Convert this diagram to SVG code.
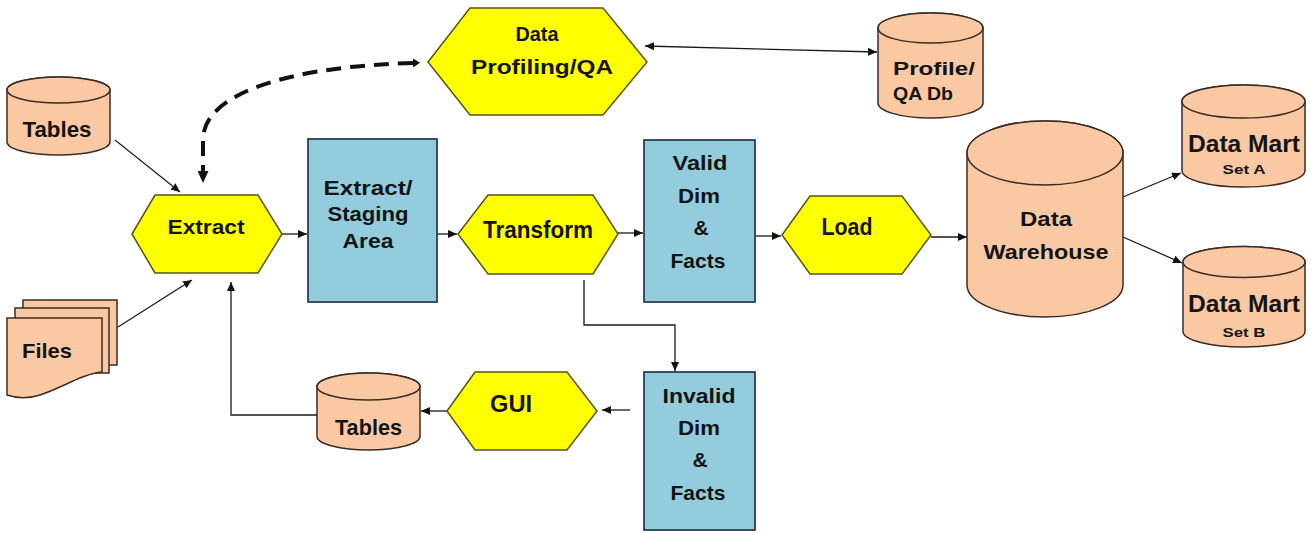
<svg xmlns="http://www.w3.org/2000/svg" width="1316" height="533" viewBox="0 0 1316 533">
<style>
.t{font-family:"Liberation Sans",Arial,sans-serif;font-weight:bold;fill:#141414;text-anchor:middle}
.hex{fill:#FFFF00;stroke:#55551a;stroke-width:1.5}
.box{fill:#93CDDD;stroke:#2a4050;stroke-width:1.8}
.cyl{fill:#FAC9A4;stroke:#3a2c22;stroke-width:1.5}
.ln{fill:none;stroke:#1a1a1a;stroke-width:1.3}
</style>
<defs>
<marker id="ah" markerUnits="userSpaceOnUse" markerWidth="10" markerHeight="8" refX="9" refY="4" orient="auto-start-reverse"><path d="M0,0 L9,4 L0,8 z" fill="#111"/></marker>
<marker id="dh" markerUnits="userSpaceOnUse" markerWidth="13" markerHeight="11" refX="0" refY="5.5" orient="auto"><path d="M0,0 L12,5.5 L0,11 z" fill="#111"/></marker>
<marker id="ds" markerUnits="userSpaceOnUse" markerWidth="8" markerHeight="9" refX="0" refY="4.5" orient="auto-start-reverse"><path d="M0,0 L7,4.5 L0,9 z" fill="#111"/></marker>
</defs>

<g id="connectors">
<path class="ln" d="M115,140 L180,192" marker-end="url(#ah)"/>
<path class="ln" d="M118,327 L192,280" marker-end="url(#ah)"/>
<path class="ln" d="M282,234 L307,234" marker-end="url(#ah)"/>
<path class="ln" d="M432,234 L457,234" marker-end="url(#ah)"/>
<path class="ln" d="M618,233 L643,233" marker-end="url(#ah)"/>
<path class="ln" d="M755,236 L781,236" marker-end="url(#ah)"/>
<path class="ln" d="M931,237 L967,237" marker-end="url(#ah)"/>
<path class="ln" d="M1123,197 L1181,173" marker-end="url(#ah)"/>
<path class="ln" d="M1123,237 L1182,263" marker-end="url(#ah)"/>
<path class="ln" d="M584,280 V325 H675 V371" marker-end="url(#ah)"/>
<path class="ln" d="M630,410 L602,410" marker-end="url(#ah)"/>
<path class="ln" d="M447,411 L421,411" marker-end="url(#ah)"/>
<path class="ln" d="M317,415 H231 V282" marker-end="url(#ah)"/>
<path class="ln" d="M645,46 L877,52" marker-start="url(#ah)" marker-end="url(#ah)"/>
<path d="M413,63 C300,66 203,90 203,140 L203,171" fill="none" stroke="#111" stroke-width="4" stroke-dasharray="15,9" marker-start="url(#ds)" marker-end="url(#dh)"/>
</g>

<g id="tables-src">
<path class="cyl" d="M7,90 V142 A51.5,13 0 0 0 110,142 V90 A51.5,13 0 0 0 7,90 Z"/>
<ellipse class="cyl" cx="58.5" cy="90" rx="51.5" ry="13"/>
<text class="t" x="57" y="137" font-size="22" textLength="69" lengthAdjust="spacingAndGlyphs">Tables</text>
</g>

<g id="files">
<rect class="cyl" x="23" y="300" width="94" height="65"/>
<rect class="cyl" x="15" y="308" width="94" height="65"/>
<path class="cyl" d="M7,318 H102 V372 C82,374 62,388 40,395 C28,399 16,398 7,395 Z"/>
<text class="t" x="47" y="358" font-size="21" textLength="50" lengthAdjust="spacingAndGlyphs">Files</text>
</g>

<g id="extract">
<polygon class="hex" points="132,234 155,195 258,195 282,234 258,273 155,273"/>
<text class="t" x="206" y="234" font-size="21" textLength="77" lengthAdjust="spacingAndGlyphs">Extract</text>
</g>

<g id="profiling">
<polygon class="hex" points="428,62 470,8 603,8 647,62 603,115 470,115"/>
<text class="t" x="537" y="41" font-size="21" textLength="43" lengthAdjust="spacingAndGlyphs">Data</text>
<text class="t" x="542" y="74" font-size="21" textLength="142" lengthAdjust="spacingAndGlyphs">Profiling/QA</text>
</g>

<g id="profile-db">
<path class="cyl" d="M878,28 V103 A52.5,15 0 0 0 983,103 V28 A52.5,15 0 0 0 878,28 Z"/>
<ellipse class="cyl" cx="930.5" cy="28" rx="52.5" ry="15"/>
<text class="t" x="893" y="75" font-size="19" text-anchor="start" style="text-anchor:start" textLength="82" lengthAdjust="spacingAndGlyphs">Profile/</text>
<text class="t" x="893" y="100" font-size="19" style="text-anchor:start" textLength="60" lengthAdjust="spacingAndGlyphs">QA Db</text>
</g>

<g id="staging">
<rect class="box" x="308" y="139" width="129" height="163"/>
<text class="t" x="368" y="195" font-size="20" textLength="89" lengthAdjust="spacingAndGlyphs">Extract/</text>
<text class="t" x="368" y="221" font-size="20" textLength="81" lengthAdjust="spacingAndGlyphs">Staging</text>
<text class="t" x="368" y="248" font-size="20" textLength="51" lengthAdjust="spacingAndGlyphs">Area</text>
</g>

<g id="transform">
<polygon class="hex" points="458,234 488,195 593,195 618,234 593,274 488,274"/>
<text class="t" x="538" y="238" font-size="23" textLength="110" lengthAdjust="spacingAndGlyphs">Transform</text>
</g>

<g id="valid">
<rect class="box" x="644" y="140" width="111" height="162"/>
<text class="t" x="700" y="170" font-size="21" textLength="55" lengthAdjust="spacingAndGlyphs">Valid</text>
<text class="t" x="699" y="203" font-size="21" textLength="42" lengthAdjust="spacingAndGlyphs">Dim</text>
<text class="t" x="701" y="235" font-size="21">&amp;</text>
<text class="t" x="698" y="268" font-size="21" textLength="55" lengthAdjust="spacingAndGlyphs">Facts</text>
</g>

<g id="load">
<polygon class="hex" points="782,235 810,196 902,196 931,235 902,274 810,274"/>
<text class="t" x="847" y="235" font-size="23" textLength="51" lengthAdjust="spacingAndGlyphs">Load</text>
</g>

<g id="warehouse">
<path class="cyl" d="M967,153 V285 A78,32 0 0 0 1123,285 V153 A78,32 0 0 0 967,153 Z"/>
<ellipse class="cyl" cx="1045" cy="153" rx="78" ry="32"/>
<text class="t" x="1046" y="226" font-size="21" textLength="52" lengthAdjust="spacingAndGlyphs">Data</text>
<text class="t" x="1046" y="259" font-size="21" textLength="125" lengthAdjust="spacingAndGlyphs">Warehouse</text>
</g>

<g id="mart-a">
<path class="cyl" d="M1182,101.5 V170.5 A61.5,16.5 0 0 0 1305,170.5 V101.5 A61.5,16.5 0 0 0 1182,101.5 Z"/>
<ellipse class="cyl" cx="1243.5" cy="101.5" rx="61.5" ry="16.5"/>
<text class="t" x="1244" y="152" font-size="24" textLength="112" lengthAdjust="spacingAndGlyphs">Data Mart</text>
<text class="t" x="1244" y="174" font-size="13" textLength="43" lengthAdjust="spacingAndGlyphs">Set A</text>
</g>

<g id="mart-b">
<path class="cyl" d="M1183,262 V331.5 A61,15.5 0 0 0 1305,331.5 V262 A61,15.5 0 0 0 1183,262 Z"/>
<ellipse class="cyl" cx="1244" cy="262" rx="61" ry="15.5"/>
<text class="t" x="1244" y="312" font-size="24" textLength="112" lengthAdjust="spacingAndGlyphs">Data Mart</text>
<text class="t" x="1244" y="337" font-size="13" textLength="43" lengthAdjust="spacingAndGlyphs">Set B</text>
</g>

<g id="invalid">
<rect class="box" x="644" y="372" width="111" height="158"/>
<text class="t" x="699" y="403" font-size="21" textLength="73" lengthAdjust="spacingAndGlyphs">Invalid</text>
<text class="t" x="699" y="435" font-size="21" textLength="42" lengthAdjust="spacingAndGlyphs">Dim</text>
<text class="t" x="700" y="467" font-size="21">&amp;</text>
<text class="t" x="698" y="500" font-size="21" textLength="55" lengthAdjust="spacingAndGlyphs">Facts</text>
</g>

<g id="gui">
<polygon class="hex" points="447,411 475,372 567,372 597,411 567,450 475,450"/>
<text class="t" x="511" y="412" font-size="23" textLength="42" lengthAdjust="spacingAndGlyphs">GUI</text>
</g>

<g id="tables-gui">
<path class="cyl" d="M317,386.5 V436.5 A51.5,13.5 0 0 0 420,436.5 V386.5 A51.5,13.5 0 0 0 317,386.5 Z"/>
<ellipse class="cyl" cx="368.5" cy="386.5" rx="51.5" ry="13.5"/>
<text class="t" x="368.5" y="435" font-size="22" textLength="67" lengthAdjust="spacingAndGlyphs">Tables</text>
</g>
</svg>
